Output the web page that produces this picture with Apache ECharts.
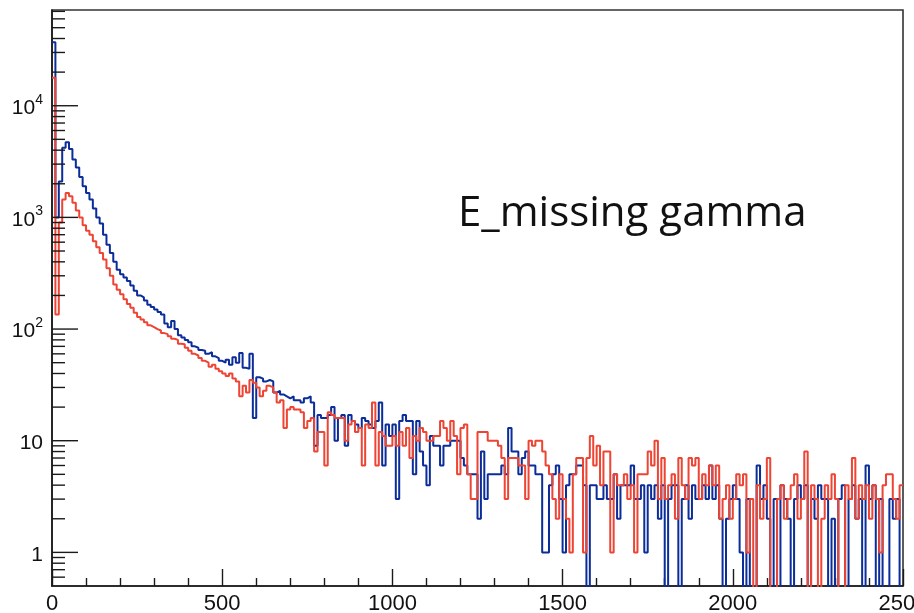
<!DOCTYPE html>
<html>
<head>
<meta charset="utf-8">
<script src="https://cdn.jsdelivr.net/npm/echarts@6/dist/echarts.min.js"></script>
<style>
html,body{margin:0;padding:0;background:#fff;}
#chart{width:914px;height:613px;}
</style>
</head>
<body>
<div id="chart"></div>
<script>
// ---- data ----
const binWidth = 10;           // histogram bin width (x units)
const xMin = 0, xMax = 2500;
const yMin = 0.5, yMax = 72000;
const xTickValues = [0, 500, 1000, 1500, 2000, 2500];
const yMajorTicks = [1, 10, 100, 1000, 10000];
const yMinorTicks = [0.6, 0.7, 0.8, 0.9, 2, 3, 4, 5, 6, 7, 8, 9, 20, 30, 40, 50, 60, 70, 80, 90,
  200, 300, 400, 500, 600, 700, 800, 900, 2000, 3000, 4000, 5000, 6000, 7000, 8000, 9000,
  20000, 30000, 40000, 50000, 60000, 70000];
const annotation = "E_missing gamma";

const blueCounts = [
  37000, 1000, 2100, 4200, 4700, 4100, 3300, 2800, 2300, 1900,
  1650, 1450, 1200, 1000, 880, 700, 570, 480, 400, 340,
  310, 290, 270, 245, 220, 200, 192, 180, 165, 158,
  150, 142, 135, 112, 104, 118, 100, 88, 84, 80,
  76, 70, 68, 65, 64, 60, 62, 57, 55, 52,
  50, 53, 48, 56, 50, 61, 45, 44, 60, 16,
  37, 36, 34, 35, 34, 27, 28, 26, 25, 24,
  25, 23, 23, 22, 24, 25, 22, 9, 17, 16,
  16, 17, 20, 10, 16, 17, 9, 17, 15, 14,
  13, 16, 15, 14, 13, 15, 22, 6, 14, 11,
  14, 3, 15, 17, 15, 15, 5, 15, 8, 6,
  4, 11, 9, 9, 6, 9, 9, 10, 10, 10,
  7, 6, 5, 5, 5, 2, 8, 3, 5, 5,
  5, 5, 6, 5, 13, 8, 8, 5, 7, 8,
  6, 6, 5, 5, 1, 1, 4, 5, 6, 3,
  1, 4, 5, 5, 6, 6, 4, 0, 4, 4,
  3, 3, 4, 3, 3, 5, 2, 4, 4, 4,
  6, 3, 3, 4, 1, 4, 3, 4, 2, 4,
  0, 3, 4, 4, 0, 3, 4, 2, 4, 3,
  3, 4, 3, 6, 3, 4, 2, 0, 2, 3,
  4, 3, 1, 0, 3, 0, 0, 6, 3, 4,
  2, 0, 3, 0, 4, 3, 2, 0, 3, 4,
  3, 4, 0, 3, 2, 4, 3, 3, 0, 2,
  0, 3, 4, 0, 3, 4, 2, 3, 0, 6,
  3, 4, 0, 3, 0, 0, 3, 2, 3, 0
];

const redCounts = [
  17800, 135, 900, 1450, 1650, 1550, 1350, 1150, 1000, 850,
  760, 700, 610, 540, 480, 420, 350, 300, 250, 225,
  205, 185, 168, 155, 140, 128, 122, 115, 108, 104,
  100, 97, 92, 90, 86, 82, 80, 74, 73, 68,
  64, 60, 58, 55, 52, 50, 46, 48, 44, 42,
  40, 38, 40, 36, 34, 25, 31, 27, 35, 33,
  30, 25, 28, 31, 30, 27, 22, 23, 13, 19,
  20, 19, 19, 18, 13, 15, 16, 8, 12, 12,
  6, 18, 17, 16, 16, 16, 10, 14, 15, 12,
  13, 6, 14, 13, 22, 6, 12, 11, 9, 9,
  11, 9, 12, 9, 13, 7, 11, 10, 13, 12,
  10, 10, 11, 11, 15, 13, 10, 15, 11, 5,
  13, 14, 5, 3, 3, 12, 12, 12, 10, 10,
  10, 9, 7, 3, 7, 7, 7, 6, 6, 3,
  10, 9, 10, 10, 8, 6, 5, 3, 2, 5,
  3, 2, 1, 5, 7, 7, 1, 7, 11, 6,
  9, 4, 8, 8, 1, 5, 4, 4, 5, 3,
  4, 1, 5, 5, 5, 8, 6, 10, 3, 7,
  3, 4, 5, 2, 7, 4, 3, 7, 6, 7,
  3, 5, 4, 6, 4, 6, 2, 3, 4, 2,
  3, 5, 4, 5, 1, 3, 0, 4, 2, 3,
  7, 0, 0, 3, 4, 2, 3, 4, 5, 2,
  3, 8, 0, 4, 3, 0, 2, 4, 3, 5,
  3, 0, 0, 4, 3, 7, 2, 4, 3, 4,
  2, 4, 3, 1, 4, 5, 5, 3, 2, 4
];

// ---- build ----
const EMPTY = 0.01; // empty bins are drawn below the log-axis floor
function stepPoints(counts) {
  const pts = counts.map((c, i) => [i * binWidth, c > 0 ? c : EMPTY]);
  const last = counts[counts.length - 1];
  pts.push([counts.length * binWidth, last > 0 ? last : EMPTY]);
  return pts;
}
const tickData = yMajorTicks.map(v => [0, v, 1]).concat(yMinorTicks.map(v => [0, v, 0]));

const chart = echarts.init(document.getElementById('chart'), null, {renderer: 'canvas'});
const axisColor = '#1a1a1a';
const labelFont = 'Liberation Sans, Arial, sans-serif';

chart.setOption({
  animation: false,
  backgroundColor: '#fff',
  grid: {left: 52, right: 11, top: 10, bottom: 27, containLabel: false, outerBoundsMode: 'none',
         show: true, borderColor: '#333', borderWidth: 1.6, backgroundColor: 'transparent'},
  xAxis: {
    type: 'value', min: xMin, max: xMax, interval: 500,
    axisLine: {show: true, onZero: false, lineStyle: {color: axisColor, width: 1.6}},
    axisTick: {show: true, inside: true, length: 17, lineStyle: {color: axisColor, width: 1.4}},
    minorTick: {show: true, splitNumber: 5, length: 8, lineStyle: {color: axisColor, width: 1.4}},
    splitLine: {show: false},
    axisLabel: {
      fontSize: 22, color: '#111', margin: 7, fontFamily: labelFont,
      showMinLabel: true, showMaxLabel: true, hideOverlap: false,
      formatter: v => xTickValues.indexOf(Math.round(v)) >= 0 ? String(Math.round(v)) : ''
    }
  },
  yAxis: {
    type: 'log', logBase: 10, min: yMin, max: yMax,
    axisLine: {show: true, onZero: false, lineStyle: {color: axisColor, width: 1.6}},
    axisTick: {show: false},
    splitLine: {show: false},
    axisLabel: {
      margin: 9, color: '#111', fontFamily: labelFont,
      showMinLabel: false, showMaxLabel: false,
      formatter: function (v) {
        const e = Math.round(Math.log10(v));
        if (Math.abs(Math.log10(v) - e) > 1e-6) return '';
        if (yMajorTicks.indexOf(Math.pow(10, e)) < 0) return '';
        if (e === 0) return '{b|1}';
        if (e === 1) return '{b|10}';
        return '{b|10}{s|' + e + '}';
      },
      rich: {
        b: {fontSize: 21, fontFamily: labelFont, color: '#111', lineHeight: 26, verticalAlign: 'bottom'},
        s: {fontSize: 14, fontFamily: labelFont, color: '#111', lineHeight: 18, verticalAlign: 'top'}
      }
    }
  },
  series: [
    {
      name: 'blue', type: 'line', step: 'end', data: stepPoints(blueCounts),
      showSymbol: false, symbol: 'none', clip: true,
      lineStyle: {color: '#0b2d99', width: 2}, z: 3
    },
    {
      name: 'red', type: 'line', step: 'end', data: stepPoints(redCounts),
      showSymbol: false, symbol: 'none', clip: true,
      lineStyle: {color: '#ee4433', width: 2}, z: 4
    },
    {
      name: 'yticks', type: 'custom', data: tickData, z: 5, silent: true,
      encode: {x: 0, y: 1},
      renderItem: function (params, api) {
        const p = api.coord([api.value(0), api.value(1)]);
        const len = api.value(2) ? 26 : 13;
        return {type: 'line', shape: {x1: p[0], y1: p[1], x2: p[0] + len, y2: p[1]},
                style: {stroke: axisColor, lineWidth: 1.4}};
      }
    }
  ],
  graphic: [{
    type: 'text', x: 458, y: 214,
    style: {text: annotation, font: '42px "Open Sans", sans-serif', fill: '#111', verticalAlign: 'middle', align: 'left'}
  }]
});
</script>
</body>
</html>
